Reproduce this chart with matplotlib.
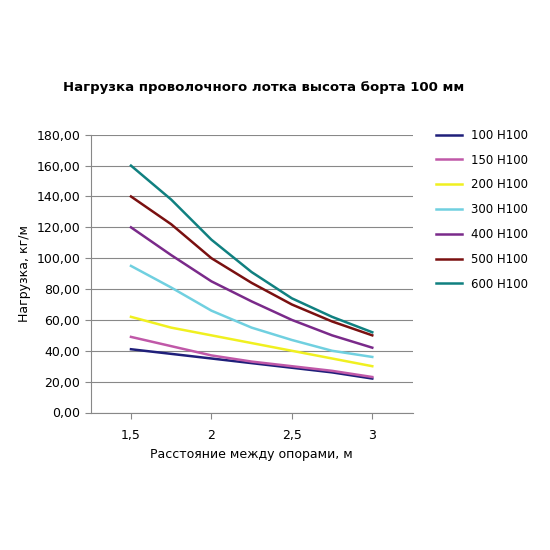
import matplotlib
matplotlib.use('Agg')
import matplotlib.pyplot as plt
from matplotlib.ticker import FuncFormatter

spans = [1.5, 1.75, 2.0, 2.25, 2.5, 2.75, 3.0]
series_names = ["100 H100", "150 H100", "200 H100", "300 H100", "400 H100", "500 H100", "600 H100"]
load_100 = [41, 38, 35, 32, 29, 26, 22]
load_150 = [49, 43, 37, 33, 30, 27, 23]
load_200 = [62, 55, 50, 45, 40, 35, 30]
load_300 = [95, 81, 66, 55, 47, 40, 36]
load_400 = [120, 102, 85, 72, 60, 50, 42]
load_500 = [140, 122, 100, 84, 70, 59, 50]
load_600 = [160, 138, 112, 91, 74, 62, 52]
colors = ["#1f1f7a", "#c058a8", "#f0f020", "#70d0e0", "#7a2a8a", "#7a1010", "#108080"]

plt.rcParams['font.family'] = ['Verdana', 'DejaVu Sans']
fig = plt.figure(figsize=(5.5, 5.5), dpi=100)
ax = fig.add_axes([0.165, 0.25, 0.585, 0.505])

for name, vals, c in zip(series_names,
                         [load_100, load_150, load_200, load_300, load_400, load_500, load_600],
                         colors):
    ax.plot(spans, vals, color=c, lw=1.8, label=name)

ax.set_xlim(1.25, 3.25)
ax.set_ylim(0, 180)
ax.set_xticks([1.5, 2, 2.5, 3])
ax.set_xticklabels(["1,5", "2", "2,5", "3"])
ax.set_yticks(range(0, 181, 20))
ax.yaxis.set_major_formatter(FuncFormatter(lambda v, _: f"{v:.2f}".replace('.', ',')))
ax.tick_params(labelsize=9, length=4, color='#888888')
ax.tick_params(axis='x', pad=8)
ax.grid(axis='y', color='#888888', lw=0.8)
for s in ['top', 'right']:
    ax.spines[s].set_visible(False)
for s in ['left', 'bottom']:
    ax.spines[s].set_color('#888888')

ax.set_xlabel("Расстояние между опорами, м", fontsize=9)
ax.set_ylabel("Нагрузка, кг/м", fontsize=9)
fig.text(0.48, 0.835, "Нагрузка проволочного лотка высота борта 100 мм",
         ha='center', fontsize=9.5, fontweight='bold')
ax.legend(loc='upper left', bbox_to_anchor=(1.04, 1.06), frameon=False,
          fontsize=8.5, handlelength=2.2, labelspacing=1.0)

fig.savefig('out.png', dpi=100, facecolor='white')
